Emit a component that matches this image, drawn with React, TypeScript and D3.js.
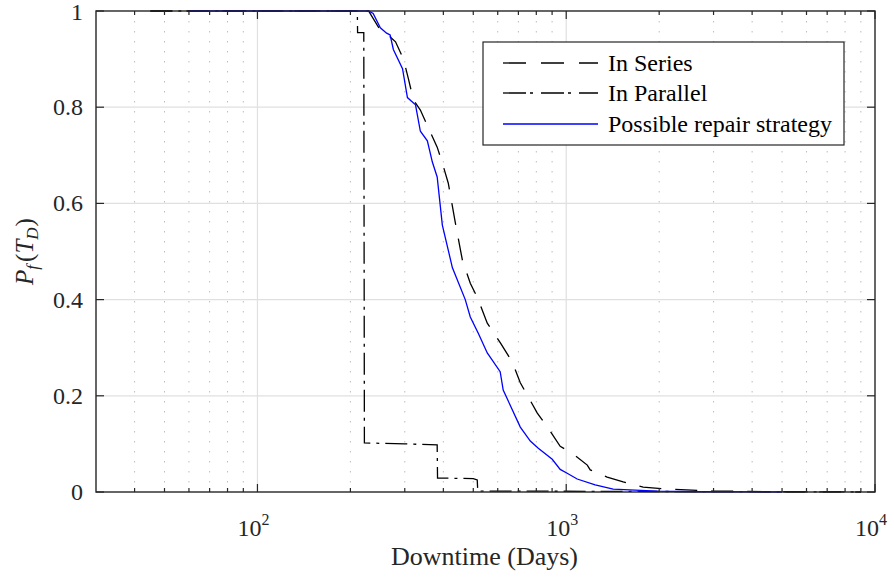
import React from "react";
import * as d3 from "d3";

// ---- data ----
const seriesDays = [45, 229, 250, 265, 280, 297, 308, 320, 337, 382, 397, 415, 437, 461, 489, 515, 555, 612, 669, 710, 753, 806, 874, 956, 1054, 1170, 1196, 1357, 1529, 1775, 2123, 2991, 4927, 9000];
const seriesVals = [1, 1, 0.96, 0.95, 0.936, 0.9, 0.86, 0.815, 0.794, 0.717, 0.684, 0.642, 0.561, 0.482, 0.434, 0.405, 0.351, 0.31, 0.27, 0.227, 0.198, 0.164, 0.133, 0.095, 0.079, 0.056, 0.046, 0.031, 0.021, 0.01, 0.006, 0.002, 0.0005, 0];

const parallelDays = [45, 210.6, 211, 221, 222, 300, 382, 383, 500, 515, 517, 9000];
const parallelVals = [1, 1, 0.955, 0.955, 0.102, 0.1, 0.098, 0.029, 0.028, 0.025, 0.002, 0];

const repairDays = [60, 229, 237, 250, 262, 269, 275.5, 295, 306, 325, 337, 355, 368.5, 382, 397, 428, 471, 489, 519, 555, 611, 625, 710, 765, 812, 901, 956, 1007, 1085, 1241, 1419, 1970, 2715, 5000];
const repairVals = [1, 1, 0.995, 0.965, 0.954, 0.95, 0.92, 0.88, 0.82, 0.805, 0.75, 0.73, 0.686, 0.655, 0.555, 0.466, 0.4, 0.364, 0.33, 0.289, 0.25, 0.212, 0.135, 0.106, 0.091, 0.068, 0.047, 0.039, 0.027, 0.015, 0.006, 0.002, 0.0005, 0];

const yTicks = [0, 0.2, 0.4, 0.6, 0.8, 1];
const yTickLabels = ["0", "0.2", "0.4", "0.6", "0.8", "1"];
const xMajor = [100, 1000, 10000];
const xMajorExp = ["2", "3", "4"];
const legendLabels = ["In Series", "In Parallel", "Possible repair strategy"];

const W = 894;
const H = 577;
const L = 96, R = 875, T = 11, B = 492;
const FONT = "Liberation Serif, DejaVu Serif, serif";
const AX = "#262626";
const TS: React.CSSProperties = { fontFamily: FONT };

export default function App() {
  const x = d3.scaleLog().domain([30, 10000]).range([L, R]);
  const y = d3.scaleLinear().domain([0, 1]).range([B, T]);

  const minor: number[] = [];
  [10, 100, 1000].forEach((dec) => {
    for (let k = 2; k <= 9; k++) {
      const v = dec * k;
      if (v > 30 && v < 10000) minor.push(v);
    }
  });

  const line = d3
    .line<[number, number]>()
    .x((d) => x(d[0]))
    .y((d) => y(d[1]));

  const zip = (a: number[], b: number[]) => a.map((v, i) => [v, b[i]] as [number, number]);

  const curves = [
    { d: zip(seriesDays, seriesVals), color: "#000", dash: "22,14", w: 1.3 },
    { d: zip(parallelDays, parallelVals), color: "#000", dash: "22,6,3,6", w: 1.3 },
    { d: zip(repairDays, repairVals), color: "#0000ff", dash: "none", w: 1.3 },
  ];

  const legendRows = [63, 93, 124];

  return (
    <svg
      width={W}
      height={H}
      style={{ position: "absolute", left: 0, top: 0, display: "block", background: "#fff" }}
    >
      <rect x={0} y={0} width={W} height={H} fill="#fff" />
      {/* grid */}
      {minor.map((v) => (
        <line key={"mg" + v} x1={x(v)} x2={x(v)} y1={T} y2={B} stroke="#bdbdbd" strokeWidth={1} strokeDasharray="1.5,8.5" />
      ))}
      {xMajor.slice(0, 2).map((v) => (
        <line key={"Mg" + v} x1={x(v)} x2={x(v)} y1={T} y2={B} stroke="#e0e0e0" strokeWidth={1.2} />
      ))}
      {yTicks.slice(1, -1).map((v) => (
        <line key={"yg" + v} x1={L} x2={R} y1={y(v)} y2={y(v)} stroke="#e0e0e0" strokeWidth={1.2} />
      ))}

      {/* curves */}
      {curves.map((c, i) => (
        <path key={i} d={line(c.d) || ""} fill="none" stroke={c.color} strokeWidth={c.w} strokeDasharray={c.dash} />
      ))}

      {/* axes box */}
      <rect x={L} y={T} width={R - L} height={B - T} fill="none" stroke={AX} strokeWidth={1.4} />
      {/* x ticks */}
      {minor.map((v) => (
        <g key={"mt" + v}>
          <line x1={x(v)} x2={x(v)} y1={B} y2={B - 4} stroke={AX} strokeWidth={1.2} />
          <line x1={x(v)} x2={x(v)} y1={T} y2={T + 4} stroke={AX} strokeWidth={1.2} />
        </g>
      ))}
      {xMajor.map((v) => (
        <g key={"Mt" + v}>
          <line x1={x(v)} x2={x(v)} y1={B} y2={B - 8} stroke={AX} strokeWidth={1.2} />
          <line x1={x(v)} x2={x(v)} y1={T} y2={T + 8} stroke={AX} strokeWidth={1.2} />
        </g>
      ))}
      {yTicks.map((v) => (
        <g key={"yt" + v}>
          <line x1={L} x2={L + 8} y1={y(v)} y2={y(v)} stroke={AX} strokeWidth={1.2} />
          <line x1={R} x2={R - 8} y1={y(v)} y2={y(v)} stroke={AX} strokeWidth={1.2} />
        </g>
      ))}

      {/* tick labels */}
      {yTicks.map((v, i) => (
        <text key={"yl" + v} x={83} y={y(v)} dy={i === yTicks.length - 1 ? "0.36em" : "0.33em"} textAnchor="end" fontSize={24} fill={AX} style={TS}>
          {yTickLabels[i]}
        </text>
      ))}
      {xMajor.map((v, i) => (
        <text key={"xl" + v} x={x(v) - 4} y={536} textAnchor="middle" fontSize={24} fill={AX} style={TS}>
          10
          <tspan fontSize={16} dy={-11}>
            {xMajorExp[i]}
          </tspan>
        </text>
      ))}

      {/* axis labels */}
      <text x={(L + R) / 2 - 1} y={565} textAnchor="middle" fontSize={26} fill={AX} style={TS}>
        Downtime (Days)
      </text>
      <text transform={`translate(33, ${(T + B) / 2}) rotate(-90)`} textAnchor="middle" fontSize={25} fill={AX} style={TS}>
        <tspan fontStyle="italic">P</tspan>
        <tspan fontStyle="italic" fontSize={17} dy={5}>f</tspan>
        <tspan dy={-5} dx={3}>(</tspan>
        <tspan fontStyle="italic">T</tspan>
        <tspan fontStyle="italic" fontSize={17} dy={5}>D</tspan>
        <tspan dy={-5} dx={1}>)</tspan>
      </text>

      {/* legend */}
      <rect x={483} y={42} width={361} height={103} fill="#fff" stroke={AX} strokeWidth={1.2} />
      {curves.map((c, i) => (
        <g key={"lg" + i}>
          <line x1={503} x2={598} y1={legendRows[i]} y2={legendRows[i]} stroke={c.color} strokeWidth={c.w} strokeDasharray={i === 0 ? "23,15" : i === 1 ? "23,4,3,8" : "none"} />
          <text x={608} y={legendRows[i]} dy="0.33em" fontSize={24} fill="#000" style={TS}>
            {legendLabels[i]}
          </text>
        </g>
      ))}
    </svg>
  );
}
